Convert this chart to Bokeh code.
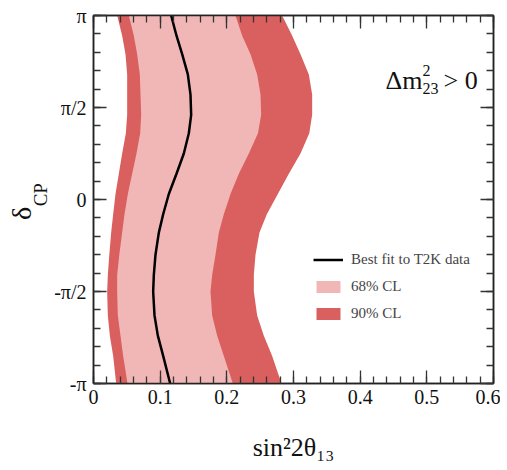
import numpy as np
from bokeh.plotting import figure
from bokeh.models import (Range1d, FixedTicker, Label, Legend, LegendItem, LinearAxis,
                          CustomJSTickFormatter)
from bokeh.embed import file_html
from bokeh.resources import INLINE

# ---- data (delta_CP in units of pi) ----
delta_over_pi = [-1.0, -0.85, -0.74, -0.63, -0.5, -0.41, -0.3, -0.18, -0.08, 0.03,
                 0.14, 0.25, 0.36, 0.46, 0.57, 0.68, 0.79, 0.89, 1.0]
best_fit = [0.115, 0.1045, 0.0965, 0.0915, 0.0895, 0.0905, 0.093, 0.098, 0.1045, 0.113,
            0.1245, 0.1355, 0.143, 0.1465, 0.1455, 0.1415, 0.133, 0.1245, 0.1165]
cl68_low = [0.051, 0.0445, 0.0405, 0.0365, 0.0355, 0.0355, 0.0387, 0.043, 0.0465, 0.0515,
            0.058, 0.0645, 0.070, 0.0715, 0.0705, 0.0695, 0.0655, 0.0605, 0.053]
cl68_high = [0.209, 0.1955, 0.1855, 0.178, 0.1755, 0.178, 0.183, 0.188, 0.1955, 0.2055,
             0.218, 0.233, 0.2467, 0.2515, 0.2505, 0.2455, 0.2355, 0.223, 0.213]
cl90_low = [0.034, 0.0295, 0.0245, 0.0215, 0.0205, 0.0215, 0.0237, 0.0265, 0.0295, 0.033,
            0.038, 0.043, 0.0485, 0.0505, 0.0505, 0.0505, 0.048, 0.043, 0.0355]
cl90_high = [0.282, 0.268, 0.2555, 0.2455, 0.2405, 0.2405, 0.243, 0.249, 0.26, 0.2765,
             0.293, 0.3105, 0.3237, 0.328, 0.328, 0.323, 0.3105, 0.298, 0.283]

x_tick_values = [0, 0.1, 0.2, 0.3, 0.4, 0.5, 0.6]
x_tick_labels = ["0", "0.1", "0.2", "0.3", "0.4", "0.5", "0.6"]
y_tick_values = [-1, -0.5, 0, 0.5, 1]
y_tick_labels = ["-π", "-π/2", "0", "π/2", "π"]
legend_labels = ["Best fit to T2K data", "68% CL", "90% CL"]

LIGHT = "#F0B7B6"
DARK = "#D9605E"
FONT = "Liberation Serif"
NB = "\u00a0"

p = figure(width=500, height=470, output_backend="svg", toolbar_location=None,
           x_range=Range1d(0, 0.6), y_range=Range1d(-1, 1),
           min_border_left=93, min_border_right=7, min_border_top=15, min_border_bottom=87)
p.grid.visible = False
p.outline_line_color = "#222222"
p.outline_line_width = 1.5

r90 = p.harea(y=delta_over_pi, x1=cl90_low, x2=cl90_high, fill_color=DARK)
r68 = p.harea(y=delta_over_pi, x1=cl68_low, x2=cl68_high, fill_color=LIGHT)
rbf = p.line(best_fit, delta_over_pi, line_color="black", line_width=2.5)

x_minor = [round(v, 3) for v in np.arange(0, 0.6001, 0.02)]
y_minor = [round(v, 3) for v in np.arange(-1, 1.0001, 0.1)]
xt = FixedTicker(ticks=x_tick_values, minor_ticks=x_minor)
yt = FixedTicker(ticks=y_tick_values, minor_ticks=y_minor)


def style(ax, show_labels):
    ax.axis_line_color = "#222222"
    ax.axis_line_width = 1.5
    ax.major_tick_line_color = "#333333"
    ax.minor_tick_line_color = "#333333"
    ax.major_tick_line_width = 1.3
    ax.minor_tick_line_width = 1.3
    ax.major_tick_in = 13
    ax.major_tick_out = 0
    ax.minor_tick_in = 7
    ax.minor_tick_out = 0
    ax.axis_label_text_font = FONT
    ax.axis_label_text_font_style = "normal"
    ax.axis_label_text_color = "#111111"
    if show_labels:
        ax.major_label_text_font = FONT
        ax.major_label_text_font_size = "20px"
        ax.major_label_text_color = "#111111"
    else:
        ax.formatter = CustomJSTickFormatter(code="return ''")
        ax.major_label_text_font_size = "8px"
        ax.major_label_standoff = 0


p.xaxis.ticker = xt
p.yaxis.ticker = yt
p.xaxis.major_label_overrides = dict(zip(x_tick_values, x_tick_labels))
p.yaxis.major_label_overrides = dict(zip(y_tick_values, y_tick_labels))
style(p.xaxis[0], True)
style(p.yaxis[0], True)
p.xaxis.major_label_standoff = 6
p.yaxis.major_label_standoff = 7

# x-axis title
p.xaxis.axis_label = "sin²2θ₁₃"
p.xaxis.axis_label_text_font_size = "26px"
p.xaxis.axis_label_standoff = 26

# y-axis title: subscript "CP" on the inner axis, "δ" on an outer axis
p.yaxis.axis_label = NB + NB + "CP"
p.yaxis.axis_label_text_font_size = "19px"
p.yaxis.axis_label_standoff = 0

outer = LinearAxis(ticker=FixedTicker(ticks=[]), axis_label="δ" + NB * 4)
outer.axis_line_color = None
outer.major_tick_line_color = None
outer.minor_tick_line_color = None
outer.major_label_standoff = 0
outer.major_label_text_font_size = "8px"
outer.axis_label_text_font = FONT
outer.axis_label_text_font_style = "normal"
outer.axis_label_text_font_size = "28px"
outer.axis_label_text_color = "#111111"
outer.axis_label_standoff = -9
p.add_layout(outer, "left")

top = LinearAxis(ticker=xt)
right = LinearAxis(ticker=yt)
style(top, False)
style(right, False)
p.add_layout(top, "above")
p.add_layout(right, "right")


def lab(text, x, y, size):
    p.add_layout(Label(x=x, y=y, x_units="screen", y_units="screen", text=text,
                       text_font=FONT, text_font_size=size, text_align="left",
                       text_baseline="alphabetic", text_color="#111111"))

# annotation Delta m^2_23 > 0 (frame-relative screen coords)
lab("Δm", 292, 303, "26px")
lab("2", 329, 313, "16px")
lab("23", 329, 295, "16px")
lab("> 0", 350, 303, "26px")

legend = Legend(items=[LegendItem(label=legend_labels[0], renderers=[rbf]),
                       LegendItem(label=legend_labels[1], renderers=[r68]),
                       LegendItem(label=legend_labels[2], renderers=[r90])],
                location=(220, 61), glyph_width=30, glyph_height=15, label_height=15,
                spacing=10, padding=0, margin=0, label_standoff=8,
                border_line_color=None, background_fill_alpha=0,
                label_text_font=FONT, label_text_font_size="15px")
p.add_layout(legend, "center")

open("out.html", "w").write(file_html(p, INLINE))
